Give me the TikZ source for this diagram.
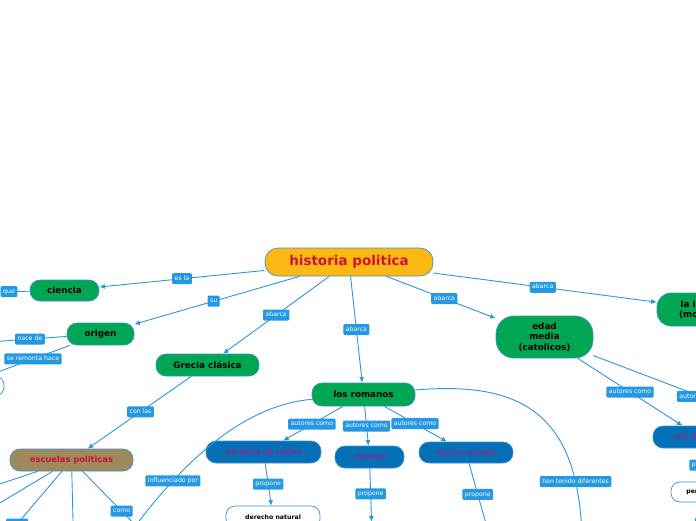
\documentclass[tikz,border=0pt]{standalone}
\usepackage{fontspec}
\setmainfont{DejaVu Sans}
\usetikzlibrary{arrows.meta}
\definecolor{lineblue}{RGB}{43,150,220}
\definecolor{lblblue}{RGB}{36,152,226}
\definecolor{bordblue}{RGB}{60,145,210}
\definecolor{gfill}{RGB}{0,166,81}
\definecolor{ofill}{RGB}{253,184,19}
\definecolor{redtxt}{RGB}{204,20,52}
\definecolor{brfill}{RGB}{158,137,90}
\definecolor{bfill}{RGB}{5,112,182}
\definecolor{ptxt}{RGB}{128,45,150}
\begin{document}
\begin{tikzpicture}[x=1pt,y=-1pt,
  basenode/.style={rectangle, draw=bordblue, line width=0.7pt, inner sep=0pt, align=center},
  topnode/.style={basenode, rounded corners=13pt, fill=ofill, text=redtxt, font=\bfseries\fontsize{13.5}{16}\selectfont},
  gnode/.style={basenode, rounded corners=10pt, fill=gfill, text=black, font=\bfseries\fontsize{8.8}{10.5}\selectfont},
  brnode/.style={basenode, rounded corners=10pt, fill=brfill, text=redtxt, font=\bfseries\fontsize{8.3}{10}\selectfont},
  bnode/.style={basenode, rounded corners=10pt, fill=bfill, text=ptxt, font=\bfseries\fontsize{7.8}{9.5}\selectfont},
  wnode/.style={basenode, rounded corners=9pt, fill=white, text=black, font=\bfseries\fontsize{6.2}{7.5}\selectfont},
  lbl/.style={fill=lblblue, text=white, font=\fontsize{6.2}{7}\selectfont, rounded corners=1.2pt, inner xsep=2.5pt, inner ysep=0pt, text height=4.8pt, text depth=1.5pt, minimum height=11pt},
  conn/.style={draw=lineblue, line width=0.9pt},
  arr/.style={conn, -{Latex[length=5.5pt,width=5pt]}}
]
\clip (0,0) rectangle (696,520);

% nodes
\node[topnode, minimum width=168pt, minimum height=28pt] (hist) at (349,262) {historia politica};
\node[gnode, minimum width=69pt, minimum height=21pt] (ciencia) at (64.5,290.5) {ciencia};
\node[gnode, minimum width=67pt, minimum height=22pt] (origen) at (100.5,334) {origen};
\node[gnode, minimum width=103pt, minimum height=22pt] (grecia) at (207.5,365) {Grecia clásica};
\node[gnode, minimum width=103pt, minimum height=23pt] (romanos) at (363.5,394.5) {los romanos};
\node[gnode, rounded corners=18pt, minimum width=97pt, minimum height=42pt] (edad) at (544.5,337) {edad\\media\\(catolicos)};
\node[gnode, rounded corners=14pt, minimum width=112pt, minimum height=33pt] (ilus) at (713,309.5) {la ilustracion\\(modernidad)};
\node[brnode, minimum width=123pt, minimum height=22pt] (escuelas) at (71.5,460) {escuelas politicas};
\node[bnode, minimum width=115pt, minimum height=22pt] (panecio) at (263.5,452) {panecio de rodas};
\node[bnode, minimum width=69pt, minimum height=22pt] (ciceron) at (369.5,457) {ciceron};
\node[bnode, minimum width=94pt, minimum height=21pt] (marco) at (466,452.5) {marco aurelio};
\node[bnode, minimum width=94pt, minimum height=22pt] (sanA) at (700,437) {san Agustin};
\node[wnode, minimum width=94pt, minimum height=22pt] (derecho) at (273,517) {derecho natural};
\node[wnode, minimum width=76pt, minimum height=20pt] (pe) at (709,492) {pensamiento};
\node[wnode, minimum width=88pt, minimum height=20pt] (leftw) at (-40,386) {};
\node[wnode, minimum width=80pt, minimum height=30pt] (cicT) at (372,537) {};

% off-canvas ends
\coordinate (queT) at (-60,293);
\coordinate (naceT) at (-60,345.5);
\coordinate (marcoT) at (492,545);
\coordinate (edT) at (810,438);
\coordinate (peT) at (712,560);
\coordinate (e1) at (-60,504);
\coordinate (e2) at (-40,527);
\coordinate (e3) at (-5,550);
\coordinate (e4) at (74,560);
\coordinate (e5) at (150,540);
\coordinate (curL) at (125,540);
\coordinate (curR) at (582,560);

% connectors
\draw[arr] (hist) -- node[lbl, pos=0.5] {es la} (ciencia);
\draw[arr] (hist) -- node[lbl, pos=0.52] {su} (origen);
\draw[arr] (hist) -- node[lbl, pos=0.5] {abarca} (grecia);
\draw[arr] (hist) -- node[lbl, pos=0.5] {abarca} (romanos);
\draw[arr] (hist) -- node[lbl, pos=0.53] {abarca} (edad);
\draw[arr] (hist) -- node[lbl, pos=0.49] {abarca} (ilus);

\draw[conn] (ciencia) -- node[lbl, pos=0.23] {que} (queT);
\draw[conn] (origen) -- node[lbl, pos=0.29] {nace de} (naceT);
\draw[arr] (origen) -- node[lbl, pos=0.45] {se remonta hace} (leftw);

\draw[arr] (grecia) -- node[lbl, pos=0.49] {con las} (escuelas);

\draw[arr] (romanos) -- node[lbl, pos=0.52] {autores como} (panecio);
\draw[arr] (romanos) -- node[lbl, pos=0.5] {autores como} (ciceron);
\draw[arr] (romanos) -- node[lbl, pos=0.49] {autores como} (marco);

\draw[conn] (romanos) .. controls (250,405) and (190,450) .. node[lbl, pos=0.75] {influenciado por} (curL);
\draw[conn] (romanos) .. controls (530,380) and (585,420) .. node[lbl, pos=0.78] {han tenido diferentes} (curR);

\draw[arr] (panecio) -- node[lbl, pos=0.49] {propone} (derecho);
\draw[arr] (ciceron) -- node[lbl, pos=0.48] {propone} (cicT);
\draw[conn] (marco) -- node[lbl, pos=0.38] {propone} (marcoT);

\draw[arr] (edad) -- node[lbl, pos=0.5] {autores como} (sanA);
\draw[conn] (edad) -- node[lbl, pos=0.495] {autores como} (edT);
\draw[arr] (sanA) -- node[lbl, pos=0.5] {propone} (pe);
\draw[conn] (pe) -- node[lbl, pos=0.36] {propone} (peT);

\draw[conn] (escuelas) -- (e1);
\draw[conn] (escuelas) -- (e2);
\draw[conn] (escuelas) -- node[lbl, pos=0.67] {como} (e3);
\draw[conn] (escuelas) -- (e4);
\draw[conn] (escuelas) -- node[lbl, pos=0.58] {como} (e5);
\end{tikzpicture}
\end{document}
